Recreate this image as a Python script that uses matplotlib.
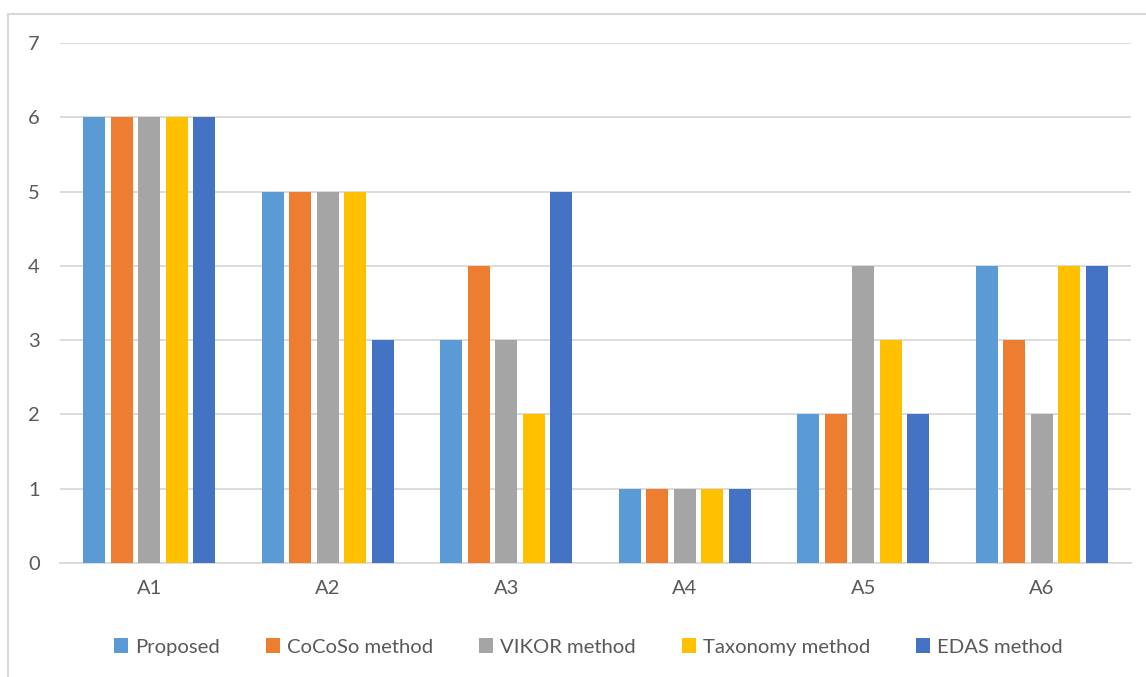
import matplotlib
matplotlib.use("Agg")
import matplotlib.pyplot as plt
from matplotlib.lines import Line2D
from matplotlib.transforms import ScaledTranslation
import numpy as np

categories = ["A1", "A2", "A3", "A4", "A5", "A6"]
series_names = ["Proposed", "CoCoSo method", "VIKOR method", "Taxonomy method", "EDAS method"]
proposed = [6, 5, 3, 1, 2, 4]
cocoso = [6, 5, 4, 1, 2, 3]
vikor = [6, 5, 3, 1, 4, 2]
taxonomy = [6, 5, 2, 1, 3, 4]
edas = [6, 3, 5, 1, 2, 4]
y_ticks = [0, 1, 2, 3, 4, 5, 6, 7]

series = [proposed, cocoso, vikor, taxonomy, edas]
colors = ["#5B9BD5", "#ED7D31", "#A5A5A5", "#FFC000", "#4472C4"]
text_color = "#595959"
grid_color = "#D9D9D9"

plt.rcParams["font.family"] = ["Lato", "DejaVu Sans"]

fig = plt.figure(figsize=(11.46, 6.77), dpi=100)
ax = fig.add_axes([60 / 1146, 1 - 563 / 677, (1131 - 60) / 1146, (563 - 43) / 677])

x = np.arange(len(categories))
pitch = 0.154
width = 0.123
for i, (vals, name, c) in enumerate(zip(series, series_names, colors)):
    ax.bar(x + (i - 2) * pitch, vals, width=width, color=c, label=name, zorder=3)

ax.set_xlim(-0.5, len(categories) - 0.5)
ax.set_ylim(0, 7)
ax.set_yticks(y_ticks)
ax.set_xticks(x)
ax.set_xticklabels(categories)
ax.yaxis.grid(True, color=grid_color, linewidth=1.3, zorder=0)
ax.set_axisbelow(True)
for s in ["top", "right", "left"]:
    ax.spines[s].set_visible(False)
ax.spines["bottom"].set_color(grid_color)
ax.spines["bottom"].set_linewidth(1.3)
ax.tick_params(axis="both", length=0, colors=text_color, labelsize=14.5)
ax.tick_params(axis="x", pad=12)
ax.yaxis.set_tick_params(pad=0)
for lbl in ax.get_yticklabels():
    lbl.set_horizontalalignment("left")
    lbl.set_transform(lbl.get_transform() + ScaledTranslation(-32 / 100, 0, fig.dpi_scale_trans))

leg = fig.legend(loc="center", bbox_to_anchor=(588.5 / 1146, 1 - 647 / 677), ncol=5, frameon=False,
                 fontsize=14.6, handlelength=0.7, handleheight=0.7, handletextpad=0.35,
                 columnspacing=2.26)
for t in leg.get_texts():
    t.set_color(text_color)

# chart area border (top and left edges)
fig.add_artist(Line2D([8 / 1146, 1.0], [1 - 14 / 677, 1 - 14 / 677], transform=fig.transFigure,
                      color=grid_color, linewidth=1.5))
fig.add_artist(Line2D([8 / 1146, 8 / 1146], [0, 1 - 14 / 677], transform=fig.transFigure,
                      color=grid_color, linewidth=1.5))

fig.savefig("out.png", dpi=100)
